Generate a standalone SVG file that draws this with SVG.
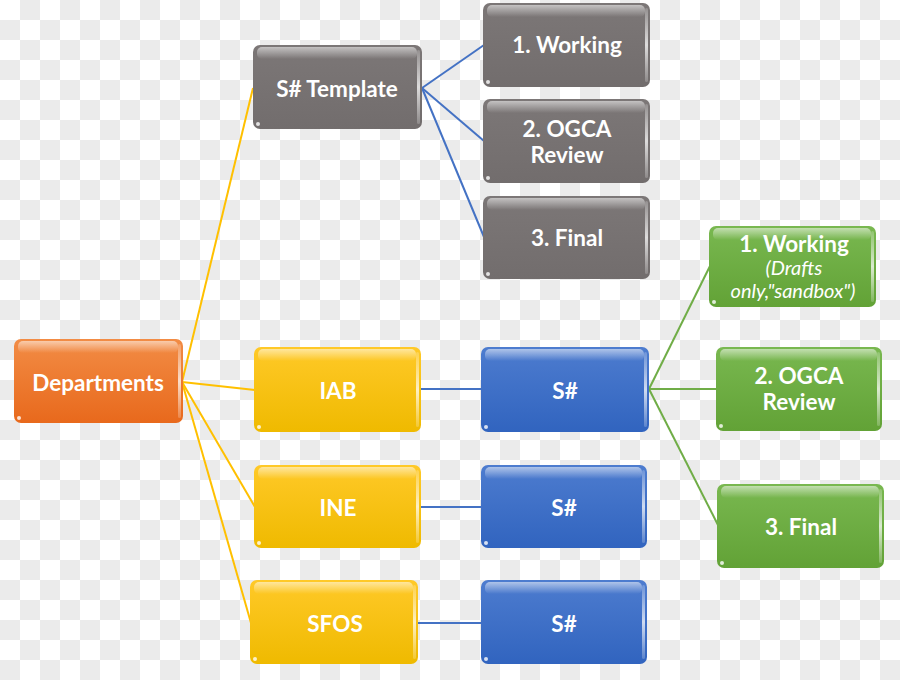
<svg xmlns="http://www.w3.org/2000/svg" width="900" height="680" viewBox="0 0 900 680">
<defs>
<pattern id="checker" width="40" height="40" patternUnits="userSpaceOnUse">
<rect width="40" height="40" fill="#ffffff"/>
<rect x="20" y="0" width="20" height="20" fill="#ebebeb"/>
<rect x="0" y="20" width="20" height="20" fill="#ebebeb"/>
</pattern>
<linearGradient id="gOrange" x1="0" y1="0" x2="0" y2="1"><stop offset="0" stop-color="#f28c45"/><stop offset="1" stop-color="#e8691c"/></linearGradient>
<linearGradient id="gGray" x1="0" y1="0" x2="0" y2="1"><stop offset="0" stop-color="#7c7777"/><stop offset="1" stop-color="#726d6d"/></linearGradient>
<linearGradient id="gYellow" x1="0" y1="0" x2="0" y2="1"><stop offset="0" stop-color="#ffc928"/><stop offset="1" stop-color="#efba00"/></linearGradient>
<linearGradient id="gBlue" x1="0" y1="0" x2="0" y2="1"><stop offset="0" stop-color="#4d7ccf"/><stop offset="1" stop-color="#3164bf"/></linearGradient>
<linearGradient id="gGreen" x1="0" y1="0" x2="0" y2="1"><stop offset="0" stop-color="#79b850"/><stop offset="1" stop-color="#62a236"/></linearGradient>
<linearGradient id="gloss" x1="0" y1="0" x2="0" y2="1"><stop offset="0" stop-color="#ffffff" stop-opacity="0.55"/><stop offset="1" stop-color="#ffffff" stop-opacity="0"/></linearGradient>
<linearGradient id="edge" x1="0" y1="0" x2="0" y2="1"><stop offset="0" stop-color="#ffffff" stop-opacity="0.2"/><stop offset="0.5" stop-color="#ffffff" stop-opacity="0.75"/><stop offset="1" stop-color="#ffffff" stop-opacity="0.2"/></linearGradient>
</defs>
<style>
.box{stroke:none}
.gl{fill:url(#gloss)}
.ed{fill:url(#edge)}
.dot{fill:#ffffff;fill-opacity:0.8}
text{font-family:Lato,"Liberation Sans",sans-serif;font-weight:bold;fill:#ffffff;text-anchor:middle;font-size:22.5px}
text.it{font-style:italic;font-weight:normal;font-size:20px}
.cy{stroke:#ffc000;stroke-width:2;fill:none}
.cb{stroke:#4472c4;stroke-width:2;fill:none}
.cg{stroke:#70ad47;stroke-width:2;fill:none}
</style>
<rect width="900" height="680" fill="url(#checker)"/>
<g id="connectors">
<line class="cy" x1="182" y1="382" x2="253" y2="88"/>
<line class="cy" x1="182" y1="382" x2="255" y2="390"/>
<line class="cy" x1="182" y1="382" x2="255" y2="507"/>
<line class="cy" x1="182" y1="382" x2="251" y2="623"/>
<line class="cb" x1="422" y1="88" x2="484" y2="45"/>
<line class="cb" x1="422" y1="88" x2="484" y2="141"/>
<line class="cb" x1="422" y1="88" x2="484" y2="237"/>
<line class="cb" x1="421" y1="389" x2="482" y2="389"/>
<line class="cb" x1="421" y1="507" x2="482" y2="507"/>
<line class="cb" x1="418" y1="623" x2="482" y2="623"/>
<line class="cg" x1="649" y1="389" x2="710" y2="266"/>
<line class="cg" x1="649" y1="389" x2="717" y2="389"/>
<line class="cg" x1="649" y1="389" x2="718" y2="525"/>
</g>
<g id="departments">
<rect class="box" x="14" y="339" width="169" height="84" rx="7" fill="url(#gOrange)"/>
<rect class="gl" x="18" y="341" width="160" height="12" rx="5"/>
<rect class="ed" x="178" y="344" width="3" height="74" rx="1.5"/>
<circle class="dot" cx="19" cy="418" r="2"/>
<text x="98" y="391">Departments</text>
</g>
<g id="s-template">
<rect class="box" x="253" y="45" width="169" height="84" rx="7" fill="url(#gGray)"/>
<rect class="gl" x="257" y="47" width="160" height="12" rx="5"/>
<rect class="ed" x="417" y="50" width="3" height="74" rx="1.5"/>
<circle class="dot" cx="258" cy="124" r="2"/>
<text x="337" y="97">S# Template</text>
</g>
<g id="tpl-working">
<rect class="box" x="483" y="3" width="167" height="84" rx="7" fill="url(#gGray)"/>
<rect class="gl" x="487" y="5" width="158" height="12" rx="5"/>
<rect class="ed" x="645" y="8" width="3" height="74" rx="1.5"/>
<circle class="dot" cx="488" cy="82" r="2"/>
<text x="567" y="53">1. Working</text>
</g>
<g id="tpl-ogca">
<rect class="box" x="483" y="99" width="167" height="84" rx="7" fill="url(#gGray)"/>
<rect class="gl" x="487" y="101" width="158" height="12" rx="5"/>
<rect class="ed" x="645" y="104" width="3" height="74" rx="1.5"/>
<circle class="dot" cx="488" cy="178" r="2"/>
<text x="567" y="137">2. OGCA</text>
<text x="567" y="163">Review</text>
</g>
<g id="tpl-final">
<rect class="box" x="483" y="196" width="167" height="83" rx="7" fill="url(#gGray)"/>
<rect class="gl" x="487" y="198" width="158" height="12" rx="5"/>
<rect class="ed" x="645" y="201" width="3" height="73" rx="1.5"/>
<circle class="dot" cx="488" cy="274" r="2"/>
<text x="567" y="246">3. Final</text>
</g>
<g id="iab">
<rect class="box" x="254" y="347" width="167" height="85" rx="7" fill="url(#gYellow)"/>
<rect class="gl" x="258" y="349" width="158" height="12" rx="5"/>
<rect class="ed" x="416" y="352" width="3" height="75" rx="1.5"/>
<circle class="dot" cx="259" cy="427" r="2"/>
<text x="338" y="399">IAB</text>
</g>
<g id="ine">
<rect class="box" x="254" y="465" width="167" height="83" rx="7" fill="url(#gYellow)"/>
<rect class="gl" x="258" y="467" width="158" height="12" rx="5"/>
<rect class="ed" x="416" y="470" width="3" height="73" rx="1.5"/>
<circle class="dot" cx="259" cy="543" r="2"/>
<text x="338" y="516">INE</text>
</g>
<g id="sfos">
<rect class="box" x="250" y="580" width="168" height="84" rx="7" fill="url(#gYellow)"/>
<rect class="gl" x="254" y="582" width="159" height="12" rx="5"/>
<rect class="ed" x="413" y="585" width="3" height="74" rx="1.5"/>
<circle class="dot" cx="255" cy="659" r="2"/>
<text x="335" y="632">SFOS</text>
</g>
<g id="s-iab">
<rect class="box" x="481" y="347" width="168" height="85" rx="7" fill="url(#gBlue)"/>
<rect class="gl" x="485" y="349" width="159" height="12" rx="5"/>
<rect class="ed" x="644" y="352" width="3" height="75" rx="1.5"/>
<circle class="dot" cx="486" cy="427" r="2"/>
<text x="565" y="399">S#</text>
</g>
<g id="s-ine">
<rect class="box" x="481" y="465" width="166" height="83" rx="7" fill="url(#gBlue)"/>
<rect class="gl" x="485" y="467" width="157" height="12" rx="5"/>
<rect class="ed" x="642" y="470" width="3" height="73" rx="1.5"/>
<circle class="dot" cx="486" cy="543" r="2"/>
<text x="564" y="516">S#</text>
</g>
<g id="s-sfos">
<rect class="box" x="481" y="580" width="166" height="84" rx="7" fill="url(#gBlue)"/>
<rect class="gl" x="485" y="582" width="157" height="12" rx="5"/>
<rect class="ed" x="642" y="585" width="3" height="74" rx="1.5"/>
<circle class="dot" cx="486" cy="659" r="2"/>
<text x="564" y="632">S#</text>
</g>
<g id="g-working">
<rect class="box" x="709" y="226" width="167" height="81" rx="7" fill="url(#gGreen)"/>
<rect class="gl" x="713" y="228" width="158" height="12" rx="5"/>
<rect class="ed" x="871" y="231" width="3" height="71" rx="1.5"/>
<circle class="dot" cx="714" cy="302" r="2"/>
<text x="794" y="252">1. Working</text>
<text class="it" x="794" y="275">(Drafts</text>
<text class="it" x="793" y="298">only,"sandbox")</text>
</g>
<g id="g-ogca">
<rect class="box" x="716" y="347" width="166" height="84" rx="7" fill="url(#gGreen)"/>
<rect class="gl" x="720" y="349" width="157" height="12" rx="5"/>
<rect class="ed" x="877" y="352" width="3" height="74" rx="1.5"/>
<circle class="dot" cx="721" cy="426" r="2"/>
<text x="799" y="384">2. OGCA</text>
<text x="799" y="410">Review</text>
</g>
<g id="g-final">
<rect class="box" x="717" y="484" width="167" height="84" rx="7" fill="url(#gGreen)"/>
<rect class="gl" x="721" y="486" width="158" height="12" rx="5"/>
<rect class="ed" x="879" y="489" width="3" height="74" rx="1.5"/>
<circle class="dot" cx="722" cy="563" r="2"/>
<text x="801" y="535">3. Final</text>
</g>
</svg>
